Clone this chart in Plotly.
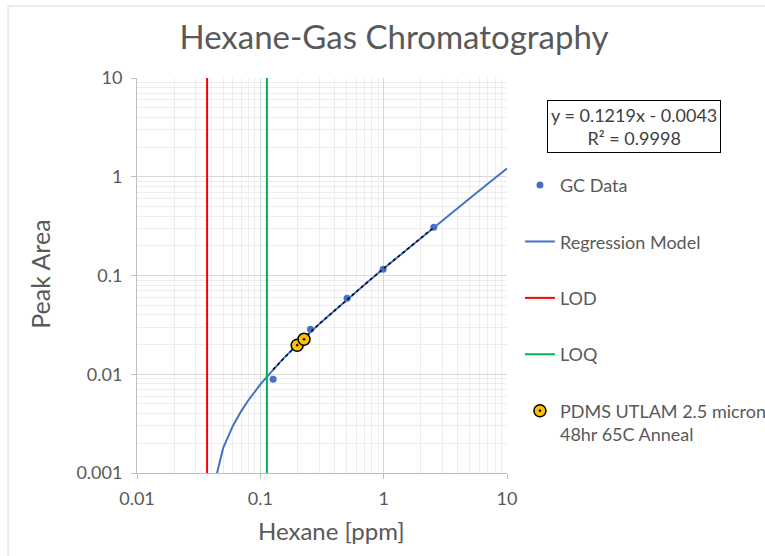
import plotly.graph_objects as go

# Calibration standards (GC)
gc_conc = [0.127, 0.255, 0.505, 0.99, 2.55]
gc_area = [0.0089, 0.0285, 0.0589, 0.1156, 0.308]

# Film samples
pdms_conc = [0.199, 0.226]
pdms_area = [0.0197, 0.0226]

# Linear fit reported in the equation box
SLOPE = 0.1219
INTERCEPT = -0.0043
R2 = 0.9998
model_x = [0.04, 0.05, 0.06, 0.07, 0.08, 0.09, 0.1, 0.15, 0.2, 0.3, 0.5,
           0.75, 1, 1.5, 2, 3, 5, 7.5, 10]
model_y = [SLOPE * v + INTERCEPT for v in model_x]

# Detection / quantitation limits
LOD = 0.037
LOQ = 0.113

y_ticks = [0.001, 0.01, 0.1, 1, 10]
y_ticktext = ["0.001", "0.01", "0.1", "1", "10"]
x_ticks = [0.01, 0.1, 1, 10]
x_ticktext = ["0.01", "0.1", "1", "10"]

FONT = "Lato, Carlito, Calibri, sans-serif"
GREY = "#595959"

fig = go.Figure()

fig.add_trace(go.Scatter(
    x=gc_conc, y=gc_area, mode="markers", name="GC Data",
    marker=dict(color="#4472C4", size=7), legendgroup="a"))

fig.add_trace(go.Scatter(
    x=model_x, y=model_y, mode="lines", name="Regression Model",
    line=dict(color="#4472C4", width=2), legendgroup="b"))

fig.add_trace(go.Scatter(
    x=[LOD, LOD], y=[0.001, 10], mode="lines", name="LOD",
    line=dict(color="#FF0000", width=2), legendgroup="c"))

fig.add_trace(go.Scatter(
    x=[LOQ, LOQ], y=[0.001, 10], mode="lines", name="LOQ",
    line=dict(color="#00B050", width=2), legendgroup="d"))

# Trendline over the calibration range (sampled so it bends on log axes)
lo, hi = gc_conc[0], gc_conc[-1]
trend_x = [lo] + [v for v in model_x if lo < v < hi] + [hi]
trend_y = [SLOPE * v + INTERCEPT for v in trend_x]
fig.add_trace(go.Scatter(
    x=trend_x, y=trend_y, mode="lines", showlegend=False,
    line=dict(color="#000000", width=1.5, dash="dot"), hoverinfo="skip"))

fig.add_trace(go.Scatter(
    x=pdms_conc, y=pdms_area, mode="markers",
    name="PDMS UTLAM 2.5 micron<br>48hr 65C Anneal",
    marker=dict(color="#FFC000", size=12, symbol="circle-dot",
                line=dict(color="#000000", width=1.5)),
    legendgroup="e"))

axis_common = dict(
    type="log",
    showgrid=True, gridcolor="#D9D9D9", gridwidth=1,
    minor=dict(dtick="D1", showgrid=True, gridcolor="#EDEDED", gridwidth=1),
    showline=True, linecolor="#BFBFBF", linewidth=1,
    ticks="outside", ticklen=5, tickcolor="#BFBFBF",
    tickfont=dict(family=FONT, size=18, color=GREY),
    zeroline=False,
)

fig.update_xaxes(**axis_common, range=[-2, 1], tickvals=x_ticks,
                 ticktext=x_ticktext, ticklabelstandoff=4)
fig.update_yaxes(**axis_common, range=[-3, 1], tickvals=y_ticks,
                 ticktext=y_ticktext, ticklabelstandoff=5)

# Axis titles
fig.add_annotation(xref="paper", yref="paper", x=0.527, y=-0.145,
                   xanchor="center", yanchor="middle", showarrow=False,
                   text="Hexane [ppm]", font=dict(family=FONT, size=24, color=GREY))
fig.add_annotation(xref="paper", yref="paper", x=-0.262, y=0.502,
                   xanchor="center", yanchor="middle", showarrow=False, textangle=-90,
                   text="Peak Area", font=dict(family=FONT, size=25, color=GREY))

# Equation box
fig.add_annotation(
    xref="paper", yref="paper", x=1.108, y=0.877, xanchor="left", yanchor="middle",
    text=f"y = {SLOPE}x - {abs(INTERCEPT)}<br>R² = {R2}", showarrow=False, align="center",
    font=dict(family=FONT, size=18, color="#404040"),
    bordercolor="#000000", borderwidth=1, borderpad=3, bgcolor="white")

# Outer chart frame
fig.add_shape(type="rect", xref="paper", yref="paper",
              x0=-0.3486, x1=1.75, y0=-0.25, y1=1.1823,
              line=dict(color="#D9D9D9", width=1), layer="below")

fig.update_layout(
    width=765, height=556,
    margin=dict(l=137, r=258, t=78, b=83, autoexpand=False),
    paper_bgcolor="white", plot_bgcolor="white",
    title=dict(text="Hexane-Gas Chromatography", xref="container", yref="container",
               x=0.515, y=0.932, xanchor="center", yanchor="middle",
               font=dict(family=FONT, size=33, color=GREY)),
    legend=dict(x=1.035, y=0.775, xanchor="left", yanchor="top",
                font=dict(family=FONT, size=18, color=GREY),
                tracegroupgap=30, valign="top", bgcolor="rgba(0,0,0,0)"),
    showlegend=True,
)

fig.write_html("out.html")
